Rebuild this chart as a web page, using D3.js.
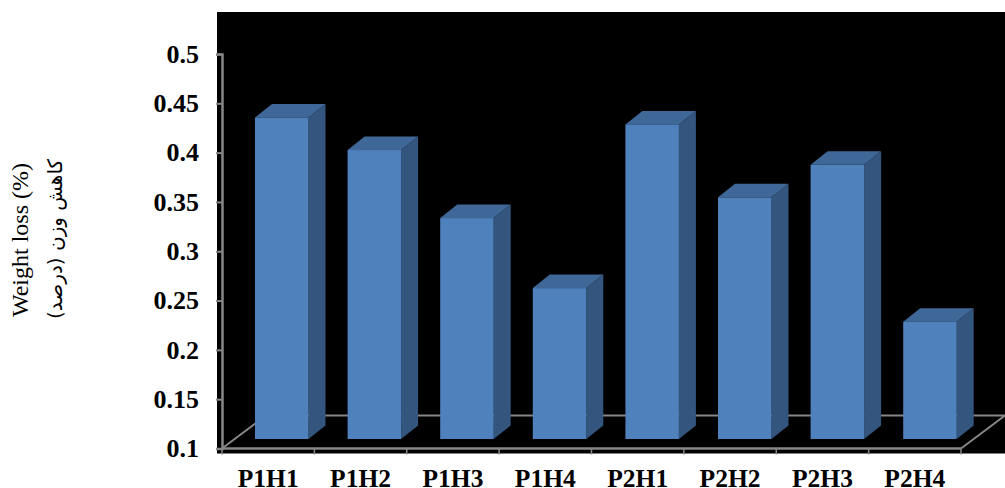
<!DOCTYPE html>
<html>
<head>
<meta charset="utf-8">
<script src="https://cdnjs.cloudflare.com/ajax/libs/d3/7.8.5/d3.min.js"></script>
<style>
  html, body { margin: 0; padding: 0; background: #fff; }
  svg { display: block; }
  text { font-family: "Liberation Serif", serif; fill: #000; }
</style>
</head>
<body>
<svg id="chart" width="1005" height="488"></svg>
<script>
const categories = ["P1H1", "P1H2", "P1H3", "P1H4", "P2H1", "P2H2", "P2H3", "P2H4"];
const weightLoss = [0.426, 0.393, 0.324, 0.253, 0.419, 0.345, 0.378, 0.219];
const yTicks = [0.1, 0.15, 0.2, 0.25, 0.3, 0.35, 0.4, 0.45, 0.5];
const titleEn = "Weight loss (%)";
const titleFa = "کاهش وزن (درصد)";

const svg = d3.select("#chart");
const x = d3.scaleBand().domain(categories).range([222, 961]);
const xBars = d3.scaleBand().domain(categories).range([255, 255 + 8 * 92.6]);
const y = d3.scaleLinear().domain([0.1, 0.5]).range([448.5, 54]);

// Oblique projection: floor depth, and the bars' thickness and lift above it.
const floor = { dx: 44, dy: -33 };
const bar = { width: 53.5, dx: 17, dy: -13.5, lift: -9.5 };
const axisGrey = "#868686";

svg.append("rect").attr("x", 217).attr("y", 12).attr("width", 788).attr("height", 441.5).attr("fill", "#000");

// Floor outline, drawn before the bars so they hide the back edge.
const floorG = svg.append("g").attr("stroke", axisGrey).attr("stroke-width", 2).attr("fill", "none");
const [x0, x1] = x.range();
const y0 = y(0.1);
floorG.append("path").attr("d", d3.line()([
  [x0, y0], [x0 + floor.dx, y0 + floor.dy], [x1 + floor.dx, y0 + floor.dy], [x1, y0]
]));

// Three visible faces for each bar.
const bars = svg.append("g").selectAll("g").data(categories).join("g");
const barLeft = c => xBars(c);
const barTop = (c, i) => y(weightLoss[i]) + bar.lift;
const base = y(0.1) + bar.lift;

bars.append("path").attr("fill", "#33557e").attr("d", (c, i) => d3.line()([
  [barLeft(c) + bar.width, barTop(c, i)],
  [barLeft(c) + bar.width + bar.dx, barTop(c, i) + bar.dy],
  [barLeft(c) + bar.width + bar.dx, base + bar.dy],
  [barLeft(c) + bar.width, base]
]));
bars.append("path").attr("fill", "#3f6797").attr("d", (c, i) => d3.line()([
  [barLeft(c), barTop(c, i)],
  [barLeft(c) + bar.dx, barTop(c, i) + bar.dy],
  [barLeft(c) + bar.width + bar.dx, barTop(c, i) + bar.dy],
  [barLeft(c) + bar.width, barTop(c, i)]
]));
bars.append("rect").attr("fill", "#4f81bd")
  .attr("x", barLeft).attr("y", barTop)
  .attr("width", bar.width).attr("height", (c, i) => base - barTop(c, i));

// Value axis
const yAxis = svg.append("g").attr("transform", `translate(${x0},0)`)
  .call(d3.axisLeft(y).tickValues(yTicks).tickFormat(d3.format("~g")).tickSize(6).tickPadding(17));
yAxis.select(".domain").attr("stroke", axisGrey).attr("stroke-width", 2.5);
yAxis.selectAll(".tick line").attr("stroke", axisGrey).attr("stroke-width", 2);
yAxis.selectAll(".tick text").attr("font-size", 26).attr("font-weight", "bold")
  .style("font-family", '"Liberation Serif", serif').attr("fill", "#000");

// Category axis: labels at band centres, tick marks on band edges.
const xAxis = svg.append("g").attr("transform", `translate(0,${y0})`)
  .call(d3.axisBottom(x).tickSize(0).tickPadding(20));
xAxis.select(".domain").remove();
xAxis.selectAll(".tick text").attr("font-size", 25.5).attr("font-weight", "bold")
  .style("font-family", '"Liberation Serif", serif').attr("fill", "#000");
const edges = categories.map(c => x(c)).concat(x1);
svg.append("path").attr("stroke", axisGrey).attr("stroke-width", 2.5).attr("fill", "none")
  .attr("d", d3.line()([[x0, y0], [x1, y0]]));
svg.append("g").selectAll("line").data(edges).join("line")
  .attr("x1", d => d).attr("x2", d => d).attr("y1", y0).attr("y2", y0 + 6)
  .attr("stroke", axisGrey).attr("stroke-width", 1.5);

// Axis titles
svg.append("text").attr("transform", "translate(28,240) rotate(-90)")
  .attr("text-anchor", "middle").attr("font-size", 24).text(titleEn);
svg.append("text").attr("transform", "translate(62,239) rotate(-90)")
  .attr("text-anchor", "middle").attr("font-size", 20)
  .style("font-family", '"DejaVu Sans", sans-serif').attr("direction", "rtl").text(titleFa);
</script>
</body>
</html>
